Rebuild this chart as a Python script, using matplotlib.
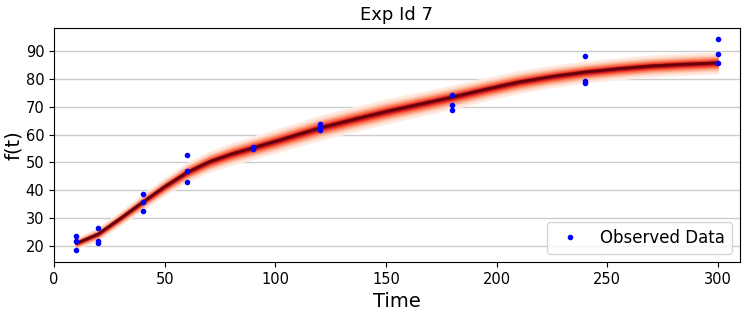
import numpy as np
import matplotlib
matplotlib.use("Agg")
import matplotlib.pyplot as plt

# Observed data
obs_t = [10, 10, 10, 20, 20, 20, 40, 40, 40, 60, 60, 60, 90, 90, 90,
         120, 120, 120, 180, 180, 180, 240, 240, 240, 300, 300, 300]
obs_f = [23.6, 21.8, 18.6, 26.4, 21.9, 21.2, 38.8, 35.8, 32.6, 52.8, 47.1, 43.0,
         55.6, 55.2, 55.0, 63.9, 62.5, 61.6, 74.2, 70.8, 69.0, 88.2, 79.2, 78.5,
         94.5, 88.9, 85.7]

# Fitted curve (median) and band half-width
curve_t = [10, 20, 30, 40, 50, 60, 70, 80, 90, 100, 110, 120, 135, 150, 165,
           180, 195, 210, 225, 240, 255, 270, 285, 300]
curve_f = [20.9, 24.3, 29.9, 35.7, 41.3, 46.4, 50.2, 53.0, 55.3, 57.6, 60.0, 62.4,
           65.4, 68.3, 70.9, 73.5, 76.3, 78.9, 80.9, 82.5, 83.7, 84.7, 85.3, 85.8]
spread = [2.2, 2.4, 2.7, 3.0, 3.3, 3.6, 3.9, 4.1, 4.3, 4.4, 4.5, 4.6,
          4.6, 4.6, 4.5, 4.4, 4.3, 4.2, 4.1, 4.0, 4.0, 4.0, 4.0, 4.0]

fig = plt.figure(figsize=(7.47, 3.12), dpi=100)
ax = fig.add_axes([0.0723, 0.160, 0.9183, 0.750])

ct = np.array(curve_t, dtype=float)
cf = np.array(curve_f, dtype=float)
sp = np.array(spread, dtype=float)
cmap = plt.get_cmap("Reds")
n = 24
for k in range(n, 0, -1):
    frac = k / n
    col = cmap(0.04 + 0.96 * (1 - frac) ** 1.6)
    ax.fill_between(ct, cf - sp * frac, cf + sp * frac, color=col, lw=0)
ax.plot(ct, cf, color="#67000d", lw=2.0)

ax.plot(obs_t, obs_f, '.', color="blue", markersize=6, label="Observed Data", zorder=5)

ax.set_xlim(0, 310)
ax.set_ylim(14.2, 98.3)
ax.set_yticks([20, 30, 40, 50, 60, 70, 80, 90])
ax.yaxis.grid(True, color="#cccccc", lw=1)
ax.set_axisbelow(True)
ax.tick_params(labelsize=10.5)
ax.set_xlabel("Time", fontsize=14)
ax.set_ylabel("f(t)", fontsize=14, labelpad=2)
ax.set_title("Exp Id 7", fontsize=13)
ax.legend(loc="lower right", fontsize=12)

fig.savefig("out.png", dpi=100)
